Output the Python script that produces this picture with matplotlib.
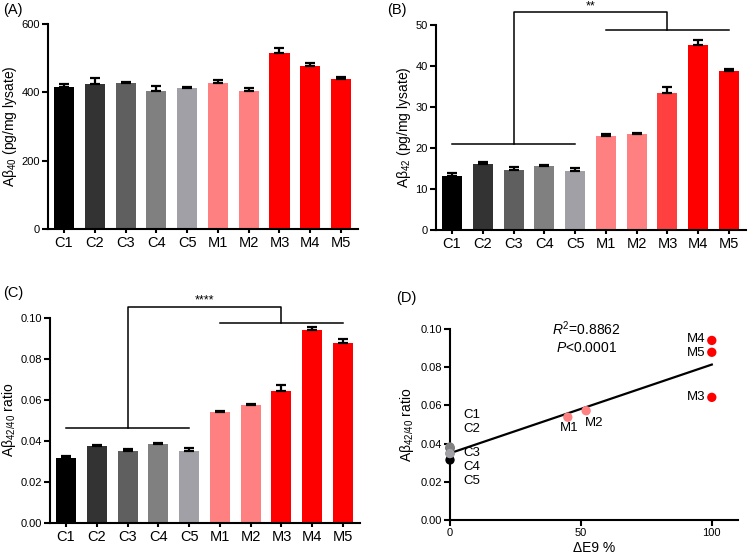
import numpy as np
import matplotlib
matplotlib.use("Agg")
import matplotlib.pyplot as plt

plt.rcParams['font.family'] = ['Liberation Sans', 'DejaVu Sans']
plt.rcParams['mathtext.fontset'] = 'custom'
plt.rcParams['mathtext.rm'] = 'Liberation Sans'
plt.rcParams['mathtext.it'] = 'Liberation Sans:italic'

# ---- data ----
groups = ["C1", "C2", "C3", "C4", "C5", "M1", "M2", "M3", "M4", "M5"]

ab40 = [415, 424, 426, 404, 412, 427, 405, 516, 478, 440]
ab40_err = [9, 18, 5, 15, 3, 9, 7, 13, 8, 4]

ab42 = [13.2, 16.0, 14.7, 15.5, 14.3, 23.0, 23.3, 33.3, 45.1, 38.8]
ab42_err = [0.7, 0.7, 0.6, 0.4, 0.7, 0.4, 0.4, 1.6, 1.2, 0.5]

ratio = [0.0314, 0.0376, 0.0348, 0.0382, 0.0348, 0.0538, 0.0572, 0.0642, 0.0940, 0.0878]
ratio_err = [0.0010, 0.0004, 0.0013, 0.0007, 0.0015, 0.0008, 0.0007, 0.0030, 0.0013, 0.0020]

# percent of delta-E9 transcript per line (panel D x values)
de9 = [0, 0, 0, 0, 0, 45, 52, 100, 100, 100]

colors = ["#000000", "#333333", "#5f5f5f", "#808080", "#a0a0a6",
          "#ff8080", "#ff8080", "#ff0000", "#ff0000", "#ff0000"]
colors_b = colors[:7] + ["#ff4040"] + colors[8:]

XLIM = (-0.52, 9.55)


def bar_panel(ax, vals, errs, cols, ylim, yticks, ylabel, yfmt):
    x = np.arange(len(vals))
    ax.bar(x, vals, width=0.65, color=cols, zorder=2)
    ax.errorbar(x, vals, yerr=[np.zeros(len(errs)), errs], fmt='none',
                ecolor='k', elinewidth=1.6, capsize=3.5, capthick=1.6, zorder=3)
    ax.set_xlim(*XLIM)
    ax.set_ylim(*ylim)
    ax.set_yticks(yticks)
    ax.set_yticklabels([yfmt.format(v) for v in yticks])
    ax.set_xticks(x)
    ax.set_xticklabels(groups)
    ax.set_ylabel(ylabel, fontsize=10, labelpad=1.5)
    for s in ['top', 'right']:
        ax.spines[s].set_visible(False)
    for s in ['left', 'bottom']:
        ax.spines[s].set_linewidth(1.5)
    ax.tick_params(axis='x', length=3, width=1.5, labelsize=10.5, pad=2)
    ax.tick_params(axis='y', length=4, width=1.5, labelsize=8, pad=2)


def bracket(ax, y_left, y_right, y_top, stars):
    kw = dict(color='k', lw=1.1, clip_on=False)
    ax.plot([0, 4], [y_left, y_left], **kw)
    ax.plot([5, 9], [y_right, y_right], **kw)
    ax.plot([2, 2, 7, 7], [y_left, y_top, y_top, y_right], **kw)
    ax.text(4.5, y_top, stars, ha='center', va='bottom', fontsize=9)


fig = plt.figure(figsize=(7.48, 5.59), dpi=100)

axA = fig.add_axes([0.0642, 0.5903, 0.4144, 0.3667])
bar_panel(axA, ab40, ab40_err, colors, (0, 600), [0, 200, 400, 600],
          'Aβ$_{40}$ (pg/mg lysate)', '{:d}')

axB = fig.add_axes([0.5829, 0.5886, 0.4144, 0.3667])
bar_panel(axB, ab42, ab42_err, colors_b, (0, 50), [0, 10, 20, 30, 40, 50],
          'Aβ$_{42}$ (pg/mg lysate)', '{:d}')
bracket(axB, 21, 48.8, 53.1, '**')

axC = fig.add_axes([0.0668, 0.0649, 0.4144, 0.3667])
bar_panel(axC, ratio, ratio_err, colors, (0, 0.10),
          [0, 0.02, 0.04, 0.06, 0.08, 0.10],
          'Aβ$_{42/40}$ ratio', '{:.2f}')
bracket(axC, 0.046, 0.0972, 0.1054, '****')

# ---- panel D: correlation ----
axD = fig.add_axes([0.6016, 0.0698, 0.385, 0.3417])
axD.scatter(de9, ratio, s=45, c=colors, zorder=3, clip_on=False,
            edgecolors='none')
slope, intercept = np.polyfit(de9, ratio, 1)
xl = np.array([0, 100])
axD.plot(xl, slope * xl + intercept, color='k', lw=1.6, zorder=2)
axD.set_xlim(0, 110)
axD.set_ylim(0, 0.10)
axD.set_xticks([0, 50, 100])
axD.set_yticks([0, 0.02, 0.04, 0.06, 0.08, 0.10])
axD.set_yticklabels(['{:.2f}'.format(v) for v in axD.get_yticks()])
axD.set_ylabel('Aβ$_{42/40}$ ratio', fontsize=10, labelpad=3)
axD.set_xlabel('ΔE9 %', fontsize=10, labelpad=2)
for s in ['top', 'right']:
    axD.spines[s].set_visible(False)
for s in ['left', 'bottom']:
    axD.spines[s].set_linewidth(1.5)
axD.tick_params(axis='both', length=4, width=1.5, labelsize=8, pad=2)

lab_kw = dict(fontsize=9.5)
axD.text(5, 0.0548, 'C1', ha='left', va='center', **lab_kw)
axD.text(5, 0.0476, 'C2', ha='left', va='center', **lab_kw)
axD.text(5, 0.035, 'C3', ha='left', va='center', **lab_kw)
axD.text(5, 0.0278, 'C4', ha='left', va='center', **lab_kw)
axD.text(5, 0.0206, 'C5', ha='left', va='center', **lab_kw)
axD.text(45.5, 0.048, 'M1', ha='center', va='center', **lab_kw)
axD.text(55, 0.0507, 'M2', ha='center', va='center', **lab_kw)
axD.text(97.5, 0.0643, 'M3', ha='right', va='center', **lab_kw)
axD.text(97.5, 0.0945, 'M4', ha='right', va='center', **lab_kw)
axD.text(97.5, 0.0873, 'M5', ha='right', va='center', **lab_kw)
axD.text(52, 0.100, '$R^2$=0.8862', ha='center', va='center', fontsize=10)
axD.text(52, 0.090, '$P$<0.0001', ha='center', va='center', fontsize=10)

# panel letters
fig.text(3 / 748, 1 - 3 / 559, '(A)', ha='left', va='top', fontsize=10.5)
fig.text(387 / 748, 1 - 3 / 559, '(B)', ha='left', va='top', fontsize=10.5)
fig.text(3 / 748, 1 - 286 / 559, '(C)', ha='left', va='top', fontsize=10.5)
fig.text(396 / 748, 1 - 291 / 559, '(D)', ha='left', va='top', fontsize=10.5)

fig.savefig('out.png', dpi=100)
